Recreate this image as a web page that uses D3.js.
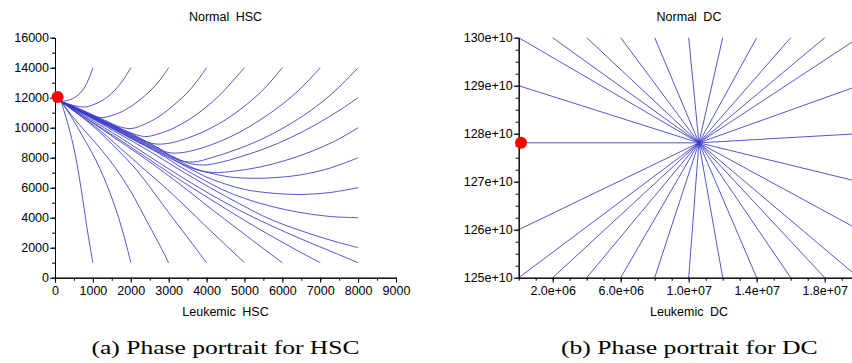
<!DOCTYPE html>
<html><head><meta charset="utf-8">
<script src="https://cdn.jsdelivr.net/npm/d3@7"></script>
<style>
html,body{margin:0;padding:0;background:#fff;overflow:hidden;}
text{font-family:"Liberation Sans",Arial,sans-serif;fill:#000;}
.cap{font-family:"Liberation Serif","DejaVu Serif",serif;}
</style></head><body>
<svg id="chart" width="852" height="363"></svg>
<script>
// ---------- Panel (a): HSC phase portrait, trajectories [leukemic HSC, normal HSC] ----------
const hscFromTop = [
 [[1000,14000],[900,13310],[770,12650],[610,12180],[420,11880],[160,11750]],
 [[2000,14000],[1800,13180],[1560,12450],[1290,11880],[1030,11550],[770,11380],[500,11480],[160,11750]],
 [[3000,14000],[2770,13180],[2510,12450],[2190,11750],[1850,11180],[1500,10810],[1190,10680],[920,10950],[610,11310],[160,11750]],
 [[4000,14000],[3750,13110],[3460,12250],[3110,11450],[2750,10750],[2380,10250],[2030,9950],[1720,10050],[1320,10490],[920,10910],[610,11250],[160,11750]],
 [[5000,14000],[4670,13050],[4350,12180],[3960,11310],[3560,10580],[3140,9980],[2720,9580],[2380,9410],[1980,9680],[1450,10280],[790,11030],[160,11750]],
 [[6000,14000],[5540,12650],[5010,11450],[4490,10510],[3960,9780],[3430,9250],[2980,8950],[2560,8950],[2110,9480],[1450,10250],[790,11010],[160,11750]],
 [[7000,14000],[6470,12580],[5940,11450],[5410,10510],[4880,9710],[4350,9080],[3830,8610],[3380,8350],[2980,8350],[2510,8950],[1850,9740],[1190,10530],[660,11150],[160,11750]],
 [[8000,14000],[7390,12450],[6730,11110],[6070,10050],[5410,9180],[4750,8510],[4140,8010],[3640,7710],[3190,7910],[2770,8580],[1980,9540],[1190,10500],[660,11140],[160,11750]]
];
const hscFromRight = [
 [[8000,12000],[7520,11180],[6860,10180],[6200,9310],[5540,8610],[4880,8050],[4350,7680],[3910,7510],[3510,7650],[3090,8110],[2240,9170],[1450,10150],[790,10960],[160,11750]],
 [[8000,10000],[7390,9110],[6730,8380],[6070,7810],[5410,7380],[4750,7110],[4220,7010],[3830,7150],[3510,7480],[3090,8050],[2770,8450],[1980,9450],[1190,10450],[660,11110],[160,11750]],
 [[8000,8000],[7260,7310],[6470,6850],[5670,6650],[5150,6630],[4620,6710],[4090,6980],[3560,7350],[2770,8380],[1980,9400],[1190,10420],[660,11100],[160,11750]],
 [[8000,6000],[7260,5680],[6470,5550],[5670,5650],[5010,5880],[4490,6250],[3960,6750],[3430,7450],[2770,8310],[1980,9350],[1190,10390],[660,11090],[160,11750]],
 [[8000,4000],[7260,4080],[6470,4350],[5670,4780],[5010,5280],[4410,5880],[3830,6650],[3300,7410],[2770,8250],[1980,9310],[1190,10370],[660,11070],[160,11750]],
 [[8000,2000],[7260,2510],[6470,3150],[5670,3910],[4880,4910],[4090,6010],[3300,7180],[2510,8410],[1720,9550],[920,10680],[160,11750]],
 [[8000,1000],[7260,1780],[6470,2610],[5670,3510],[4880,4480],[4090,5580],[3300,6780],[2510,8050],[1720,9350],[920,10580],[160,11750]]
];
const hscFromBottom = [
 [[7000,1000],[6470,1710],[5940,2450],[5410,3210],[4880,4010],[4090,5250],[3300,6510],[2510,7850],[1720,9180],[920,10480],[160,11750]],
 [[6000,1000],[5410,2110],[4750,3380],[4090,4650],[3560,5710],[2900,6980],[2240,8180],[1580,9310],[920,10450],[160,11750]],
 [[5000,1000],[4490,2210],[3960,3480],[3460,4710],[2980,5850],[2380,7180],[1720,8650],[1060,10080],[530,11050],[160,11750]],
 [[4000,1000],[3700,2010],[3350,3180],[2980,4410],[2560,5850],[2110,7310],[1580,8710],[1060,9980],[610,10910],[160,11750]],
 [[3000,1000],[2720,2380],[2400,3880],[2090,5350],[1770,6680],[1400,7980],[980,9250],[550,10480],[160,11750]],
 [[2000,1000],[1850,2510],[1690,3910],[1530,5110],[1370,6180],[1190,7250],[980,8310],[740,9380],[450,10650],[160,11750]],
 [[1000,1000],[920,2180],[845,3310],[770,4580],[690,5910],[590,7450],[480,8850],[340,10250],[240,11110],[160,11750]]
];
const hscSteady = [70, 12050];
const hscXTicks = [0,1000,2000,3000,4000,5000,6000,7000,8000,9000];
const hscYTicks = [0,2000,4000,6000,8000,10000,12000,14000,16000];

// ---------- Panel (b): DC phase portrait ----------
const dcEquilibrium = [1.06e7, 1.2781e12];
const dcGridX = [0,2e6,4e6,6e6,8e6,1e7,1.2e7,1.4e7,1.6e7,1.8e7,2e7];
const dcTopY = 1.30e12, dcBottomY = 1.25e12;
const dcLeftY = [1.29e12, 1.2781e12, 1.26e12];
const dcRightY = [1.29e12, 1.28e12, 1.27e12, 1.26e12];
const dcSteady = [1.4e5, 1.2781e12];
const dcXTicks = [2e6,6e6,1e7,1.4e7,1.8e7];
const dcYTicks = [1.25e12,1.26e12,1.27e12,1.28e12,1.29e12,1.30e12];

const svg = d3.select("#chart");
const lineColor = "#3838c6";
const lw = 0.85;

function drawAxes(g, x, y, xMajor, xMinor, yMajor, yMinor, xFmt, yFmt) {
  const h = y.range()[0];
  const x0 = x.range()[0];
  g.append("g").attr("transform", `translate(0,${h})`)
    .call(d3.axisBottom(x).tickValues(xMinor).tickSize(3).tickFormat("").tickSizeOuter(0));
  g.append("g").attr("transform", `translate(0,${h})`)
    .call(d3.axisBottom(x).tickValues(xMajor).tickSize(5).tickPadding(3).tickFormat(xFmt).tickSizeOuter(0))
    .call(a => a.selectAll("text").attr("font-size", 12.5).attr("font-family", "Liberation Sans, Arial, sans-serif"));
  g.append("g").attr("transform", `translate(${x0},0)`)
    .call(d3.axisLeft(y).tickValues(yMinor).tickSize(3).tickFormat("").tickSizeOuter(0));
  g.append("g").attr("transform", `translate(${x0},0)`)
    .call(d3.axisLeft(y).tickValues(yMajor).tickSize(5).tickPadding(1).tickFormat(yFmt).tickSizeOuter(0))
    .call(a => a.selectAll("text").attr("font-size", 12.5).attr("font-family", "Liberation Sans, Arial, sans-serif"));
  g.selectAll(".domain, .tick line").attr("stroke", "#000").attr("stroke-width", 1);
}

// ----- panel a -----
const xa = d3.scaleLinear().domain([0, 9000]).range([55, 396]);
const ya = d3.scaleLinear().domain([0, 16000]).range([277.7, 37.7]);
const ga = svg.append("g");
const lineA = d3.line().x(d => xa(d[0])).y(d => ya(d[1])).curve(d3.curveCatmullRom.alpha(0.5));
ga.append("g").selectAll("path").data([...hscFromTop, ...hscFromRight, ...hscFromBottom]).join("path")
  .attr("d", lineA).attr("fill", "none").attr("stroke", lineColor).attr("stroke-width", lw);
drawAxes(ga, xa, ya, hscXTicks, d3.range(0, 9001, 500), hscYTicks, d3.range(0, 16001, 1000),
  d => String(d), d => String(d));
ga.append("circle").attr("cx", xa(hscSteady[0])).attr("cy", ya(hscSteady[1])).attr("r", 6).attr("fill", "#ff0000");
ga.append("text").attr("x", 225.5).attr("y", 20.5).attr("text-anchor", "middle").attr("font-size", 12.5)
  .attr("word-spacing", 3).text("Normal HSC");
ga.append("text").attr("x", 225.5).attr("y", 315.5).attr("text-anchor", "middle").attr("font-size", 12.5)
  .attr("word-spacing", 3).text("Leukemic HSC");
ga.append("text").attr("class", "cap").attr("x", 225.5).attr("y", 354).attr("text-anchor", "middle")
  .attr("font-size", 18).attr("textLength", 268).attr("lengthAdjust", "spacingAndGlyphs")
  .text("(a)  Phase portrait for HSC");

// ----- panel b -----
const xb = d3.scaleLinear().domain([0, 2e7]).range([518.7, 858.7]);
const yb = d3.scaleLinear().domain([1.25e12, 1.30e12]).range([277.7, 37.7]);
const gb = svg.append("g");
const starts = [];
dcGridX.forEach(v => starts.push([v, dcTopY]));
dcGridX.forEach(v => starts.push([v, dcBottomY]));
dcLeftY.forEach(v => starts.push([0, v]));
dcRightY.forEach(v => starts.push([2e7, v]));
const lineB = d3.line().x(d => xb(d[0])).y(d => yb(d[1]));
gb.append("g").selectAll("path").data(starts.map(s => [s, dcEquilibrium])).join("path")
  .attr("d", lineB).attr("fill", "none").attr("stroke", lineColor).attr("stroke-width", lw);
function expFmt(d) {
  const e = Math.floor(Math.log10(d));
  const m = d / Math.pow(10, e);
  return m.toFixed(1) + "e+" + String(e).padStart(2, "0");
}
drawAxes(gb, xb, yb, dcXTicks, d3.range(0, 2.0001e7, 1e6), dcYTicks, d3.range(0, 21).map(i => 1.25e12 + i * 0.25e10),
  expFmt, d => Math.round(d / 1e10) + "e+10");
gb.append("circle").attr("cx", xb(dcSteady[0])).attr("cy", yb(dcSteady[1])).attr("r", 6).attr("fill", "#ff0000");
gb.append("text").attr("x", 689).attr("y", 20.5).attr("text-anchor", "middle").attr("font-size", 12.5)
  .attr("word-spacing", 3).text("Normal DC");
gb.append("text").attr("x", 689).attr("y", 315.5).attr("text-anchor", "middle").attr("font-size", 12.5)
  .attr("word-spacing", 3).text("Leukemic DC");
gb.append("text").attr("class", "cap").attr("x", 689.3).attr("y", 354).attr("text-anchor", "middle")
  .attr("font-size", 18).attr("textLength", 256.7).attr("lengthAdjust", "spacingAndGlyphs")
  .text("(b)  Phase portrait for DC");
</script>
</body></html>
